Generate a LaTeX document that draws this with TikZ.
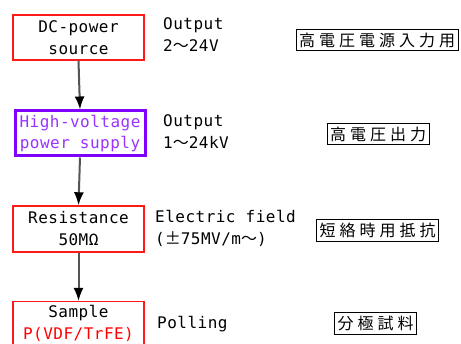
\documentclass[tikz,border=0pt]{standalone}
\usepackage{fontspec}
\setmainfont{DejaVu Sans Mono}[LetterSpace=3]
\newfontfamily\jpfont{Noto Sans CJK JP}[LetterSpace=25]
\newfontfamily\cjkch{Noto Sans CJK JP}
\usetikzlibrary{arrows.meta}
\definecolor{boxred}{HTML}{FF1A1A}
\definecolor{boxpurple}{HTML}{8000FF}
\definecolor{txtpurple}{HTML}{9933FF}
\definecolor{arrowgray}{HTML}{555555}
\tikzset{
  redbox/.style={draw=boxred, line width=1.4pt, fill=white, minimum width=131pt, align=center, inner sep=0pt, font=\fontsize{16}{22}\selectfont},
  purplebox/.style={draw=boxpurple, line width=3pt, fill=white, minimum width=130pt, minimum height=45pt, align=center, inner sep=0pt, text=txtpurple, font=\fontsize{16}{21}\selectfont},
  sidetext/.style={anchor=west, align=left, inner sep=0pt, font=\fontsize{16}{22}\selectfont},
  jpbox/.style={draw=black, line width=0.9pt, fill=white, inner xsep=3pt, inner ysep=3.5pt, font=\jpfont\fontsize{16}{16}\selectfont},
  flow/.style={draw=arrowgray, line width=2pt, -{Latex[length=13pt,width=10pt,black]}}
}
\begin{document}
\begin{tikzpicture}[x=1pt,y=-1pt]
\path[clip] (0,0) rectangle (461,344);
\fill[white] (0,0) rectangle (461,344);
% boxes
\node[redbox, minimum height=45pt] (dc) at (78.5,37.5) {DC-power\\source};
\node[purplebox] (hv) at (80,133.5) {High-voltage\\power supply};
\node[redbox, minimum height=46pt] (res) at (78.5,229) {Resistance\\50MΩ};
\node[redbox, anchor=north, inner ysep=4pt, text depth=10pt] (smp) at (78.5,301) {Sample\\\textcolor{red}{P(VDF/TrFE)}};
% arrows
\draw[flow] (dc.south) -- (hv.north);
\draw[flow] (hv.south) -- (res.north);
\draw[flow] (res.south) -- (smp.north);
% side texts
\node[sidetext] (t1) at (163,35) {Output\\2{\cjkch ～}24V};
\node[sidetext] (t2) at (163,132) {Output\\1{\cjkch ～}24kV};
\node[sidetext] (t3) at (155,228) {Electric field\\({\cjkch ±}75MV/m{\cjkch ～})};
\node[sidetext] (t4) at (157,324) {Polling};
% japanese labels
\node[jpbox] (j1) at (377,40) {高電圧電源入力用};
\node[jpbox] (j2) at (378,134) {高電圧出力};
\node[jpbox] (j3) at (377.5,230.5) {短絡時用抵抗};
\node[jpbox] (j4) at (375.5,323.5) {分極試料};
\end{tikzpicture}
\end{document}
